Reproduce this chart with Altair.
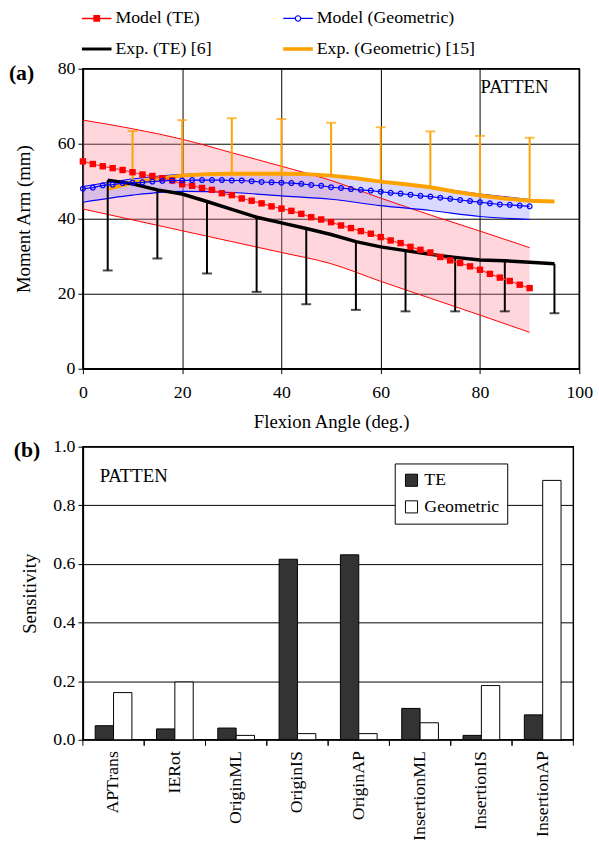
import altair as alt
import pandas as pd

# ---------------- Panel (a) data ----------------
model_angles = [0, 2, 4, 6, 8, 10, 12, 14, 16, 18, 20, 22, 24, 26, 28, 30, 32, 34, 36, 38,
                40, 42, 44, 46, 48, 50, 52, 54, 56, 58, 60, 62, 64, 66, 68, 70, 72, 74, 76, 78,
                80, 82, 84, 86, 88, 90]
model_te = [55.3, 54.6, 54.0, 53.5, 53.0, 52.4, 51.8, 51.4, 50.8, 50.2,
            49.2, 48.8, 48.2, 47.7, 46.8, 46.3, 45.4, 44.8, 44.1, 43.3,
            42.7, 42.1, 41.3, 40.4, 39.8, 39.1, 38.2, 37.5, 36.7, 36.0,
            35.1, 34.2, 33.5, 32.5, 31.7, 31.0, 29.8, 28.9, 28.2, 27.3,
            26.4, 25.3, 24.3, 23.4, 22.4, 21.5]
model_geo = [48.0, 48.3, 48.9, 49.1, 49.5, 49.6, 49.7, 49.9, 50.1, 50.2,
             50.2, 50.3, 50.3, 50.3, 50.3, 50.2, 50.2, 50.0, 49.8, 49.7,
             49.6, 49.5, 49.3, 49.0, 48.8, 48.4, 48.2, 47.9, 47.7, 47.5,
             47.2, 46.9, 46.7, 46.4, 46.1, 45.9, 45.6, 45.3, 45.0, 44.7,
             44.4, 44.1, 43.8, 43.7, 43.5, 43.3]

band_angles = [0, 10, 20, 30, 40, 50, 60, 70, 80, 90]
te_upper = [66.3, 64.0, 61.2, 57.6, 54.0, 50.2, 45.5, 41.0, 36.7, 32.3]
te_lower = [42.6, 39.7, 36.8, 33.9, 31.0, 28.0, 23.3, 18.8, 14.3, 9.7]
geo_upper = [48.6, 50.6, 51.8, 52.1, 52.1, 51.4, 49.9, 48.3, 46.6, 45.1]
geo_lower = [44.4, 46.3, 47.3, 47.0, 46.1, 45.2, 43.5, 42.2, 40.6, 39.8]

exp_angles = [5, 10, 15, 20, 25, 30, 35, 40, 45, 50, 55, 60, 65, 70, 75, 80, 85, 90, 95]
exp_te = [50.3, 49.3, 47.7, 46.6, 44.6, 42.5, 40.4, 38.9, 37.4, 35.8,
          33.9, 32.5, 31.5, 30.5, 29.7, 29.0, 28.8, 28.4, 28.0]
exp_geo = [48.0, 49.6, 50.7, 51.5, 51.9, 52.0, 52.0, 52.0, 51.9, 51.5,
           50.8, 49.9, 49.2, 48.4, 47.2, 46.2, 45.4, 44.8, 44.6]

te_err_angles = [5, 15, 25, 35, 45, 55, 65, 75, 85, 95]
te_err_low = [26.2, 29.4, 25.4, 20.5, 17.2, 15.7, 15.3, 15.3, 15.3, 14.8]
geo_err_angles = [10, 20, 30, 40, 50, 60, 70, 80, 90]
geo_err_high = [63.4, 66.3, 66.8, 66.6, 65.6, 64.4, 63.3, 62.1, 61.6]

# legend order (column-major in a 2x2 grid)
series_names = ["Model (TE)", "Exp. (TE) [6]", "Model (Geometric)", "Exp. (Geometric) [15]"]

# ---------------- Panel (b) data ----------------
params = ["APTrans", "IERot", "OriginML", "OriginIS", "OriginAP",
          "InsertionML", "InsertionIS", "InsertionAP"]
models = ["TE", "Geometric"]
sens_te = [0.048, 0.037, 0.040, 0.616, 0.631, 0.107, 0.015, 0.085]
sens_geo = [0.161, 0.197, 0.015, 0.021, 0.021, 0.058, 0.185, 0.885]

# ---------------- styling ----------------
FONT = "Liberation Serif"
RED = "#ff0000"
BLUE = "#0000ff"
ORANGE = "#ffa200"
WA, HA = 503, 304
WB, HB = 497, 297

df_model = pd.DataFrame({"angle": model_angles, "te": model_te, "geo": model_geo})
df_band = pd.DataFrame({"angle": band_angles, "te_up": te_upper, "te_lo": te_lower,
                        "geo_up": geo_upper, "geo_lo": geo_lower})
df_exp = pd.DataFrame({"angle": exp_angles, "te": exp_te, "geo": exp_geo})
df_te_err = pd.DataFrame({"angle": te_err_angles, "low": te_err_low}).merge(
    df_exp[["angle", "te"]], on="angle")
df_geo_err = pd.DataFrame({"angle": geo_err_angles, "high": geo_err_high}).merge(
    df_exp[["angle", "geo"]], on="angle")


def XA(field="angle"):
    return alt.X(f"{field}:Q", scale=alt.Scale(domain=[0, 100], nice=False),
                 axis=alt.Axis(values=[0, 20, 40, 60, 80, 100], title="Flexion Angle (deg.)",
                               titlePadding=12, labelPadding=10, labelFlush=False))


def YA(field):
    return alt.Y(f"{field}:Q", scale=alt.Scale(domain=[0, 80], nice=False),
                 axis=alt.Axis(values=[0, 20, 40, 60, 80], title="Moment Arm (mm)",
                               titlePadding=24, labelPadding=3, labelFlush=False))


red_band = alt.Chart(df_band).mark_area(color="#ff8090", opacity=0.32, interpolate="monotone").encode(
    x=XA(), y=YA("te_lo"), y2="te_up")
red_band_lines = alt.Chart(df_band).transform_fold(["te_up", "te_lo"], as_=["k", "v"]).mark_line(
    color=RED, strokeWidth=1, interpolate="monotone").encode(x=XA(), y=YA("v"), detail="k:N")
blue_band = alt.Chart(df_band).mark_area(color="#8a8aff", opacity=0.32, interpolate="monotone").encode(
    x=XA(), y=YA("geo_lo"), y2="geo_up")
blue_band_lines = alt.Chart(df_band).transform_fold(["geo_up", "geo_lo"], as_=["k", "v"]).mark_line(
    color=BLUE, strokeWidth=1.2, interpolate="monotone").encode(x=XA(), y=YA("v"), detail="k:N")

exp_geo_line = alt.Chart(df_exp).mark_line(color=ORANGE, strokeWidth=4).encode(x=XA(), y=YA("geo"))
geo_err_rule = alt.Chart(df_geo_err).mark_rule(color=ORANGE, strokeWidth=2).encode(
    x=XA(), y=YA("geo"), y2="high")
geo_err_cap = alt.Chart(df_geo_err).mark_tick(color=ORANGE, orient="horizontal", size=10, thickness=2).encode(
    x=XA(), y=YA("high"))

exp_te_line = alt.Chart(df_exp).mark_line(color="black", strokeWidth=3.5).encode(x=XA(), y=YA("te"))
te_err_rule = alt.Chart(df_te_err).mark_rule(color="black", strokeWidth=2).encode(
    x=XA(), y=YA("te"), y2="low")
te_err_cap = alt.Chart(df_te_err).mark_tick(color="black", orient="horizontal", size=10, thickness=2).encode(
    x=XA(), y=YA("low"))

model_te_line = alt.Chart(df_model).mark_line(
    color="#ff3030", strokeWidth=1.2,
    point=alt.OverlayMarkDef(shape="square", size=42, filled=True, color=RED)).encode(
    x=XA(), y=YA("te"))
model_geo_line = alt.Chart(df_model).mark_line(
    color=BLUE, strokeWidth=1.2,
    point=alt.OverlayMarkDef(shape="circle", size=24, filled=False, color=BLUE, strokeWidth=1.2)).encode(
    x=XA(), y=YA("geo"))

patten_a = alt.Chart(pd.DataFrame({"t": ["PATTEN"]})).mark_text(
    font=FONT, fontSize=19, align="left", baseline="middle", color="black").encode(
    text="t:N", x=alt.value(403), y=alt.value(19))
label_a = alt.Chart(pd.DataFrame({"t": ["(a)"]})).mark_text(
    font=FONT, fontSize=22, fontWeight="bold", align="left", baseline="middle", color="black").encode(
    text="t:N", x=alt.value(-75), y=alt.value(4))

legend_paths = [
    "M-1,-0.05H1V0.05H-1Z M-0.23,-0.23H0.23V0.23H-0.23Z",
    "M-1,-0.1H1V0.1H-1Z",
    "M-1,-0.045H-0.2V0.045H-1Z M0.2,-0.045H1V0.045H0.2Z "
    "M0,-0.22A0.22,0.22,0,1,1,0,0.22A0.22,0.22,0,1,1,0,-0.22Z "
    "M0,-0.14A0.14,0.14,0,1,0,0,0.14A0.14,0.14,0,1,0,0,-0.14Z",
    "M-1,-0.12H1V0.12H-1Z",
]
legend_colors = [RED, "#000000", BLUE, ORANGE]
top_legend = alt.Legend(title=None, orient="none", legendX=-1, legendY=-66, columns=2,
                        columnPadding=72, rowPadding=7, symbolSize=900, symbolStrokeWidth=0,
                        symbolOpacity=1, labelFont=FONT, labelFontSize=18, labelOffset=4,
                        labelColor="black", labelLimit=400)
legend_layer = alt.Chart(pd.DataFrame({"series": series_names})).transform_filter("false").mark_point(
    filled=True, opacity=1, strokeWidth=0).encode(
    color=alt.Color("series:N", sort=series_names,
                    scale=alt.Scale(domain=series_names, range=legend_colors), legend=top_legend),
    shape=alt.Shape("series:N", sort=series_names,
                    scale=alt.Scale(domain=series_names, range=legend_paths), legend=top_legend))

panel_a = alt.layer(
    red_band, blue_band, red_band_lines, blue_band_lines,
    exp_geo_line, geo_err_rule, geo_err_cap,
    exp_te_line, te_err_rule, te_err_cap,
    model_te_line, model_geo_line,
    patten_a, label_a, legend_layer,
).properties(width=WA, height=HA)

# ---------------- Panel (b) ----------------
df_b = pd.DataFrame({
    "param": params * 2,
    "model": ["TE"] * len(params) + ["Geometric"] * len(params),
    "value": sens_te + sens_geo,
})

xb_scale = alt.Scale(domain=params, paddingInner=0, paddingOuter=0)
xb_axis = alt.Axis(title=None, labelAngle=-90, ticks=False, labelPadding=11, grid=False, domain=False)

bars = alt.Chart(df_b).mark_bar(stroke="black", strokeWidth=1).encode(
    x=alt.X("param:N", sort=params, scale=xb_scale, axis=xb_axis),
    xOffset=alt.XOffset("model:N", sort=models,
                        scale=alt.Scale(domain=models, paddingInner=0, paddingOuter=0.67)),
    y=alt.Y("value:Q", scale=alt.Scale(domain=[0, 1], nice=False),
            axis=alt.Axis(values=[0, 0.2, 0.4, 0.6, 0.8, 1.0], format=".1f", title="Sensitivity",
                          titlePadding=14, labelPadding=3, labelFlush=False)),
    fill=alt.Fill("model:N", sort=models, scale=alt.Scale(domain=models, range=["#333333", "#ffffff"]),
                  legend=alt.Legend(title=None, orient="none", legendX=316, legendY=17,
                                    strokeColor="black", fillColor="white", padding=8,
                                    symbolType="square", symbolSize=150, symbolStrokeColor="black",
                                    symbolStrokeWidth=1, labelFont=FONT, labelFontSize=18,
                                    labelOffset=4, rowPadding=9, labelColor="black")),
)

tick_left = alt.Chart(pd.DataFrame({"param": params})).mark_rule(color="black", strokeWidth=1).encode(
    x=alt.X("param:N", sort=params, scale=xb_scale, axis=xb_axis, bandPosition=0),
    y=alt.value(HB), y2=alt.value(HB + 6))
tick_right = alt.Chart(pd.DataFrame({"param": params})).mark_rule(color="black", strokeWidth=1).encode(
    x=alt.X("param:N", sort=params, scale=xb_scale, axis=xb_axis, bandPosition=1),
    y=alt.value(HB), y2=alt.value(HB + 6))

patten_b = alt.Chart(pd.DataFrame({"t": ["PATTEN"]})).mark_text(
    font=FONT, fontSize=19, align="left", baseline="middle", color="black").encode(
    text="t:N", x=alt.value(17), y=alt.value(30))
label_b = alt.Chart(pd.DataFrame({"t": ["(b)"]})).mark_text(
    font=FONT, fontSize=22, fontWeight="bold", align="left", baseline="middle", color="black").encode(
    text="t:N", x=alt.value(-70), y=alt.value(3))

panel_b = alt.layer(bars, tick_left, tick_right, patten_b, label_b).properties(width=WB, height=HB)

chart = alt.vconcat(panel_a, panel_b, spacing=4).resolve_scale(
    color="independent", shape="independent", fill="independent", x="independent", y="independent"
).properties(
    padding={"left": 8, "top": -3, "right": 5, "bottom": 0}, background="white"
).configure(font=FONT).configure_axis(
    labelFont=FONT, titleFont=FONT, labelFontSize=18, titleFontSize=19, titleFontWeight="normal",
    labelColor="black", titleColor="black", domainColor="black", domainWidth=1.5,
    tickColor="black", tickSize=5, gridColor="black", gridOpacity=1, gridWidth=1,
).configure_legend(labelFont=FONT).configure_view(stroke="black", strokeWidth=1.5)

chart.save("out.html", embed_options={"renderer": "svg", "actions": False})
